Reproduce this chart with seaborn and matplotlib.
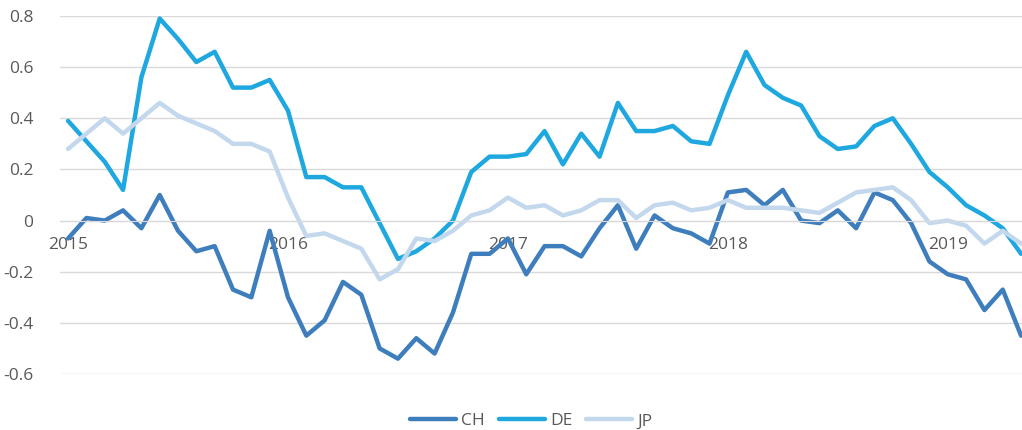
import pandas as pd
import seaborn as sns
import matplotlib.pyplot as plt

# monthly values, Jan 2015 - May 2019
ch = [-0.07, 0.01, 0.00, 0.04, -0.03, 0.10, -0.04, -0.12, -0.10, -0.27, -0.30, -0.04,
      -0.30, -0.45, -0.39, -0.24, -0.29, -0.50, -0.54, -0.46, -0.52, -0.36, -0.13, -0.13,
      -0.07, -0.21, -0.10, -0.10, -0.14, -0.03, 0.06, -0.11, 0.02, -0.03, -0.05, -0.09,
      0.11, 0.12, 0.06, 0.12, -0.00, -0.01, 0.04, -0.03, 0.11, 0.08, -0.01, -0.16,
      -0.21, -0.23, -0.35, -0.27, -0.45]
de = [0.39, 0.31, 0.23, 0.12, 0.56, 0.79, 0.71, 0.62, 0.66, 0.52, 0.52, 0.55,
      0.43, 0.17, 0.17, 0.13, 0.13, -0.01, -0.15, -0.12, -0.07, 0.00, 0.19, 0.25,
      0.25, 0.26, 0.35, 0.22, 0.34, 0.25, 0.46, 0.35, 0.35, 0.37, 0.31, 0.30,
      0.49, 0.66, 0.53, 0.48, 0.45, 0.33, 0.28, 0.29, 0.37, 0.40, 0.30, 0.19,
      0.13, 0.06, 0.02, -0.03, -0.13]
jp = [0.28, 0.34, 0.40, 0.34, 0.40, 0.46, 0.41, 0.38, 0.35, 0.30, 0.30, 0.27,
      0.09, -0.06, -0.05, -0.08, -0.11, -0.23, -0.19, -0.07, -0.08, -0.04, 0.02, 0.04,
      0.09, 0.05, 0.06, 0.02, 0.04, 0.08, 0.08, 0.01, 0.06, 0.07, 0.04, 0.05,
      0.08, 0.05, 0.05, 0.05, 0.04, 0.03, 0.07, 0.11, 0.12, 0.13, 0.08, -0.01,
      0.00, -0.02, -0.09, -0.04, -0.09]
series = ['CH', 'DE', 'JP']
colors = ['#3F7EBD', '#1EA8DF', '#C3D8ED']
year_pos = [0, 12, 24, 36, 48]
year_labels = ['2015', '2016', '2017', '2018', '2019']
y_ticks = [-0.6, -0.4, -0.2, 0, 0.2, 0.4, 0.6, 0.8]

month = list(range(len(ch)))
df = pd.DataFrame({'month': month * 3,
                   'value': ch + de + jp,
                   'country': [s for s in series for _ in month]})

sns.set_style('white')
plt.rcParams['font.family'] = ['Open Sans', 'DejaVu Sans']

fig = plt.figure(figsize=(10.22, 4.30), dpi=100)
ax = fig.add_axes([60 / 1022, 56 / 430, 962 / 1022, 358 / 430])

sns.lineplot(data=df, x='month', y='value', hue='country', palette=colors,
             linewidth=3.2, ax=ax, legend=False)

ax.set_xlim(-0.44, 52.05)
ax.set_ylim(-0.6, 0.8)
ax.set_yticks(y_ticks)
ax.set_yticklabels([f'{t:.1f}' if t != 0 else '0' for t in y_ticks])
ax.set_xticks(year_pos)
ax.set_xticklabels(year_labels)
ax.grid(axis='y', color='#D9D9D9', linewidth=1)
ax.set_axisbelow(True)
for s in ['top', 'right', 'left']:
    ax.spines[s].set_visible(False)
ax.spines['bottom'].set_position(('data', 0))
ax.spines['bottom'].set_color('#D9D9D9')
ax.tick_params(axis='both', length=0, labelsize=12.5, labelcolor='#595959')
ax.tick_params(axis='x', pad=12)
ax.tick_params(axis='y', pad=19)
ax.set_xlabel('')
ax.set_ylabel('')

handles = [plt.Line2D([], [], color=c, lw=3.2, solid_capstyle='round') for c in colors]
fig.legend(handles, series, loc='center', bbox_to_anchor=(0.52, 0.02), ncol=3,
           frameon=False, fontsize=12.5, handlelength=2.65, columnspacing=0.8,
           handletextpad=0.3, labelcolor='#595959', borderpad=0)

fig.savefig('out.png', dpi=100)
